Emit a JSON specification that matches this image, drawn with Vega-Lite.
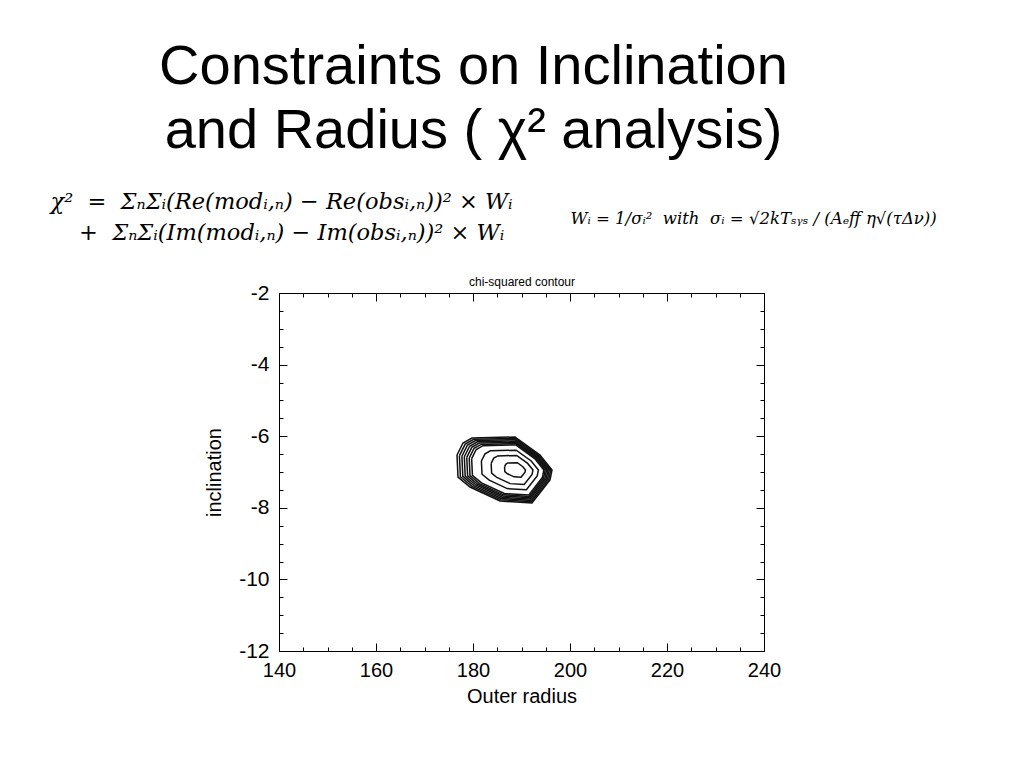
{
  "$schema": "https://vega.github.io/schema/vega-lite/v6.json",
  "width": 485,
  "height": 358,
  "autosize": {"type": "none"},
  "padding": {"left": 279, "top": 293, "right": 260, "bottom": 117},
  "background": "white",
  "title": {
    "text": ["Constraints on Inclination", "and Radius ( χ² analysis)"],
    "anchor": "middle",
    "frame": "group",
    "dx": -48,
    "offset": 30,
    "font": "Liberation Sans",
    "fontSize": 56,
    "fontWeight": "normal",
    "color": "black",
    "lineHeight": 64
  },
  "datasets": {
    "c": [
      {"k":1,"i":1,"r":176.70,"inc":-6.525},{"k":1,"i":2,"r":177.94,"inc":-6.190},{"k":1,"i":3,"r":179.79,"inc":-6.050},{"k":1,"i":4,"r":188.66,"inc":-6.022},{"k":1,"i":5,"r":193.81,"inc":-6.525},{"k":1,"i":6,"r":196.29,"inc":-6.944},{"k":1,"i":7,"r":195.88,"inc":-7.223},{"k":1,"i":8,"r":192.16,"inc":-7.866},{"k":1,"i":9,"r":185.57,"inc":-7.810},{"k":1,"i":10,"r":179.38,"inc":-7.419},{"k":1,"i":11,"r":176.91,"inc":-7.140},{"k":1,"i":12,"r":176.70,"inc":-6.525},
      {"k":2,"i":1,"r":177.20,"inc":-6.542},{"k":2,"i":2,"r":178.39,"inc":-6.220},{"k":2,"i":3,"r":180.17,"inc":-6.086},{"k":2,"i":4,"r":188.68,"inc":-6.059},{"k":2,"i":5,"r":193.63,"inc":-6.542},{"k":2,"i":6,"r":196.01,"inc":-6.944},{"k":2,"i":7,"r":195.62,"inc":-7.212},{"k":2,"i":8,"r":192.04,"inc":-7.829},{"k":2,"i":9,"r":185.72,"inc":-7.775},{"k":2,"i":10,"r":179.78,"inc":-7.400},{"k":2,"i":11,"r":177.40,"inc":-7.132},{"k":2,"i":12,"r":177.20,"inc":-6.542},
      {"k":3,"i":1,"r":177.71,"inc":-6.559},{"k":3,"i":2,"r":178.85,"inc":-6.250},{"k":3,"i":3,"r":180.55,"inc":-6.122},{"k":3,"i":4,"r":188.71,"inc":-6.096},{"k":3,"i":5,"r":193.45,"inc":-6.559},{"k":3,"i":6,"r":195.73,"inc":-6.944},{"k":3,"i":7,"r":195.35,"inc":-7.201},{"k":3,"i":8,"r":191.93,"inc":-7.792},{"k":3,"i":9,"r":185.87,"inc":-7.741},{"k":3,"i":10,"r":180.17,"inc":-7.381},{"k":3,"i":11,"r":177.90,"inc":-7.124},{"k":3,"i":12,"r":177.71,"inc":-6.559},
      {"k":4,"i":1,"r":178.21,"inc":-6.575},{"k":4,"i":2,"r":179.30,"inc":-6.280},{"k":4,"i":3,"r":180.93,"inc":-6.157},{"k":4,"i":4,"r":188.73,"inc":-6.133},{"k":4,"i":5,"r":193.27,"inc":-6.575},{"k":4,"i":6,"r":195.45,"inc":-6.944},{"k":4,"i":7,"r":195.09,"inc":-7.190},{"k":4,"i":8,"r":191.81,"inc":-7.755},{"k":4,"i":9,"r":186.02,"inc":-7.706},{"k":4,"i":10,"r":180.57,"inc":-7.362},{"k":4,"i":11,"r":178.39,"inc":-7.116},{"k":4,"i":12,"r":178.21,"inc":-6.575},
      {"k":5,"i":1,"r":178.71,"inc":-6.592},{"k":5,"i":2,"r":179.75,"inc":-6.311},{"k":5,"i":3,"r":181.31,"inc":-6.193},{"k":5,"i":4,"r":188.76,"inc":-6.170},{"k":5,"i":5,"r":193.09,"inc":-6.592},{"k":5,"i":6,"r":195.17,"inc":-6.944},{"k":5,"i":7,"r":194.82,"inc":-7.178},{"k":5,"i":8,"r":191.70,"inc":-7.718},{"k":5,"i":9,"r":186.16,"inc":-7.671},{"k":5,"i":10,"r":180.96,"inc":-7.343},{"k":5,"i":11,"r":178.89,"inc":-7.109},{"k":5,"i":12,"r":178.71,"inc":-6.592},
      {"k":6,"i":1,"r":179.22,"inc":-6.609},{"k":6,"i":2,"r":180.21,"inc":-6.341},{"k":6,"i":3,"r":181.69,"inc":-6.229},{"k":6,"i":4,"r":188.78,"inc":-6.206},{"k":6,"i":5,"r":192.90,"inc":-6.609},{"k":6,"i":6,"r":194.89,"inc":-6.944},{"k":6,"i":7,"r":194.56,"inc":-7.167},{"k":6,"i":8,"r":191.58,"inc":-7.682},{"k":6,"i":9,"r":186.31,"inc":-7.637},{"k":6,"i":10,"r":181.36,"inc":-7.324},{"k":6,"i":11,"r":179.38,"inc":-7.101},{"k":6,"i":12,"r":179.22,"inc":-6.609},
      {"k":7,"i":1,"r":179.72,"inc":-6.626},{"k":7,"i":2,"r":180.66,"inc":-6.371},{"k":7,"i":3,"r":182.07,"inc":-6.265},{"k":7,"i":4,"r":188.81,"inc":-6.243},{"k":7,"i":5,"r":192.72,"inc":-6.626},{"k":7,"i":6,"r":194.61,"inc":-6.944},{"k":7,"i":7,"r":194.30,"inc":-7.156},{"k":7,"i":8,"r":191.47,"inc":-7.645},{"k":7,"i":9,"r":186.46,"inc":-7.602},{"k":7,"i":10,"r":181.76,"inc":-7.305},{"k":7,"i":11,"r":179.88,"inc":-7.093},{"k":7,"i":12,"r":179.72,"inc":-6.626},
      {"k":8,"i":1,"r":181.73,"inc":-6.693},{"k":8,"i":2,"r":182.48,"inc":-6.492},{"k":8,"i":3,"r":183.59,"inc":-6.408},{"k":8,"i":4,"r":188.91,"inc":-6.391},{"k":8,"i":5,"r":192.00,"inc":-6.693},{"k":8,"i":6,"r":193.49,"inc":-6.944},{"k":8,"i":7,"r":193.24,"inc":-7.111},{"k":8,"i":8,"r":191.01,"inc":-7.497},{"k":8,"i":9,"r":187.05,"inc":-7.464},{"k":8,"i":10,"r":183.34,"inc":-7.229},{"k":8,"i":11,"r":181.86,"inc":-7.062},{"k":8,"i":12,"r":181.73,"inc":-6.693},
      {"k":9,"i":1,"r":183.74,"inc":-6.760},{"k":9,"i":2,"r":184.29,"inc":-6.612},{"k":9,"i":3,"r":185.10,"inc":-6.551},{"k":9,"i":4,"r":189.01,"inc":-6.538},{"k":9,"i":5,"r":191.27,"inc":-6.760},{"k":9,"i":6,"r":192.36,"inc":-6.944},{"k":9,"i":7,"r":192.18,"inc":-7.067},{"k":9,"i":8,"r":190.55,"inc":-7.350},{"k":9,"i":9,"r":187.65,"inc":-7.325},{"k":9,"i":10,"r":184.92,"inc":-7.153},{"k":9,"i":11,"r":183.84,"inc":-7.030},{"k":9,"i":12,"r":183.74,"inc":-6.760},
      {"k":10,"i":1,"r":186.51,"inc":-6.852},{"k":10,"i":2,"r":186.79,"inc":-6.778},{"k":10,"i":3,"r":187.19,"inc":-6.747},{"k":10,"i":4,"r":189.14,"inc":-6.741},{"k":10,"i":5,"r":190.28,"inc":-6.852},{"k":10,"i":6,"r":190.82,"inc":-6.944},{"k":10,"i":7,"r":190.73,"inc":-7.005},{"k":10,"i":8,"r":189.91,"inc":-7.147},{"k":10,"i":9,"r":188.46,"inc":-7.135},{"k":10,"i":10,"r":187.10,"inc":-7.049},{"k":10,"i":11,"r":186.56,"inc":-6.987},{"k":10,"i":12,"r":186.51,"inc":-6.852}
    ]
  },
  "data": {"name": "c"},
  "config": {
    "view": {"stroke": "black", "strokeWidth": 1},
    "axis": {
      "domain": false,
      "grid": false,
      "tickColor": "black",
      "tickWidth": 1,
      "labelFont": "Liberation Sans",
      "labelFontSize": 20,
      "labelColor": "black",
      "labelFlush": false,
      "labelOverlap": false,
      "titleFont": "Liberation Sans",
      "titleFontSize": 20,
      "titleFontWeight": "normal",
      "titleColor": "black"
    }
  },
  "resolve": {"axis": {"x": "independent", "y": "independent"}},
  "layer": [
    {
      "mark": {"type": "line", "stroke": "#111111", "strokeWidth": 1.5},
      "encoding": {
        "x": {
          "field": "r", "type": "quantitative",
          "scale": {"domain": [140, 240], "nice": false, "zero": false},
          "axis": {"orient": "bottom", "values": [140, 160, 180, 200, 220, 240], "tickSize": -8, "labelPadding": 17, "title": "Outer radius", "titlePadding": 6}
        },
        "y": {
          "field": "inc", "type": "quantitative",
          "scale": {"domain": [-12, -2], "nice": false, "zero": false},
          "axis": {"orient": "left", "values": [-12, -10, -8, -6, -4, -2], "tickSize": -8, "labelPadding": 18, "labelFontSize": 21, "labelExpr": "toString(datum.value)", "title": "inclination", "titlePadding": 14}
        },
        "detail": {"field": "k", "type": "nominal"},
        "order": {"field": "i", "type": "quantitative"}
      }
    },
    {
      "mark": {"type": "point", "opacity": 0},
      "encoding": {
        "x": {
          "field": "r", "type": "quantitative",
          "axis": {"orient": "bottom", "values": [145, 150, 155, 165, 170, 175, 185, 190, 195, 205, 210, 215, 225, 230, 235], "tickSize": -4, "labels": false, "title": null}
        },
        "y": {
          "field": "inc", "type": "quantitative",
          "axis": {"orient": "left", "values": [-11.5, -11, -10.5, -9.5, -9, -8.5, -7.5, -7, -6.5, -5.5, -5, -4.5, -3.5, -3, -2.5], "tickSize": -4, "labels": false, "title": null}
        }
      }
    },
    {
      "mark": {"type": "point", "opacity": 0},
      "encoding": {
        "x": {
          "field": "r", "type": "quantitative",
          "axis": {"orient": "top", "values": [140, 160, 180, 200, 220, 240], "tickSize": -8, "labels": false, "title": "chi-squared contour", "titleFontSize": 12, "titlePadding": 4}
        },
        "y": {
          "field": "inc", "type": "quantitative",
          "axis": {"orient": "right", "values": [-12, -10, -8, -6, -4, -2], "tickSize": -8, "labels": false,
            "title": "Wᵢ = 1/σᵢ²\u00a0\u00a0with\u00a0\u00a0σᵢ = √2kTₛᵧₛ / (Aₑff η√(τΔν))",
            "titleAngle": 0, "titleX": -194, "titleY": -70, "titleAlign": "left", "titleBaseline": "alphabetic",
            "titleFont": "DejaVu Serif", "titleFontStyle": "italic", "titleFontSize": 16.5}
        }
      }
    },
    {
      "mark": {"type": "point", "opacity": 0},
      "encoding": {
        "x": {
          "field": "r", "type": "quantitative",
          "axis": {"orient": "top", "values": [145, 150, 155, 165, 170, 175, 185, 190, 195, 205, 210, 215, 225, 230, 235], "tickSize": -4, "labels": false,
            "title": ["χ²\u00a0\u00a0=\u00a0\u00a0ΣₙΣᵢ(Re(modᵢ,ₙ) − Re(obsᵢ,ₙ))² × Wᵢ", "\u200b\u00a0\u00a0\u00a0\u00a0+\u00a0\u00a0ΣₙΣᵢ(Im(modᵢ,ₙ) − Im(obsᵢ,ₙ))² × Wᵢ"],
            "titleX": -229, "titleY": -85, "titleAlign": "left", "titleBaseline": "alphabetic", "titleLineHeight": 31,
            "titleFont": "DejaVu Serif", "titleFontStyle": "italic", "titleFontSize": 22.5}
        },
        "y": {
          "field": "inc", "type": "quantitative",
          "axis": {"orient": "right", "values": [-11.5, -11, -10.5, -9.5, -9, -8.5, -7.5, -7, -6.5, -5.5, -5, -4.5, -3.5, -3, -2.5], "tickSize": -4, "labels": false, "title": null}
        }
      }
    }
  ]
}
